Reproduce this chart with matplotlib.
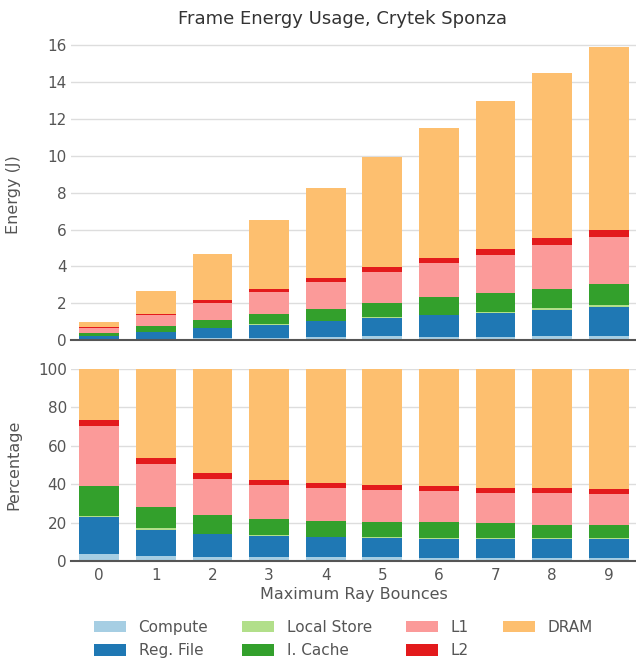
import numpy as np
import matplotlib
matplotlib.use("Agg")
import matplotlib.pyplot as plt

bounces = [0, 1, 2, 3, 4, 5, 6, 7, 8, 9]

# energy per component (J)
compute = [0.033, 0.064, 0.089, 0.124, 0.157, 0.199, 0.161, 0.182, 0.203, 0.223]
reg_file = [0.188, 0.374, 0.556, 0.709, 0.858, 0.973, 1.173, 1.274, 1.421, 1.558]
local_store = [0.002, 0.016, 0.014, 0.033, 0.025, 0.050, 0.035, 0.078, 0.087, 0.095]
i_cache = [0.149, 0.291, 0.448, 0.540, 0.660, 0.775, 0.943, 1.014, 1.044, 1.145]
l1 = [0.302, 0.609, 0.897, 1.183, 1.452, 1.698, 1.852, 2.080, 2.407, 2.560]
l2 = [0.030, 0.083, 0.145, 0.169, 0.215, 0.258, 0.299, 0.338, 0.377, 0.413]
dram = [0.253, 1.234, 2.520, 3.744, 4.884, 5.978, 7.038, 8.034, 8.961, 9.906]

labels = ["Compute", "Reg. File", "Local Store", "I. Cache", "L1", "L2", "DRAM"]
series = [compute, reg_file, local_store, i_cache, l1, l2, dram]
colors = ["#a6cee3", "#1f78b4", "#b2df8a", "#33a02c", "#fb9a99", "#e31a1c", "#fdbf6f"]

plt.rcParams["font.family"] = "DejaVu Sans"
text_col = "#555555"

W, H = 636, 662
fig = plt.figure(figsize=(W / 100, H / 100), dpi=100)
ax1 = fig.add_axes([71 / W, (H - 340) / H, 566 / W, 302 / H])
ax2 = fig.add_axes([71 / W, (H - 561) / H, 566 / W, 192 / H])

data = np.array(series)
pct = data / data.sum(axis=0) * 100
x = np.array(bounces)
w = 0.7

handles = []
for ax, vals in [(ax1, data), (ax2, pct)]:
    bottom = np.zeros(len(x))
    for i, lab in enumerate(labels):
        b = ax.bar(x, vals[i], w, bottom=bottom, color=colors[i], label=lab, zorder=3)
        bottom += vals[i]
        if ax is ax1:
            handles.append(b)
    ax.set_xlim(-0.5, 9.5)
    ax.grid(axis="y", color="#dddddd", lw=1, zorder=0)
    for s in ["top", "right", "left"]:
        ax.spines[s].set_visible(False)
    ax.spines["bottom"].set_color("#555555")
    ax.spines["bottom"].set_linewidth(1.5)
    ax.spines["bottom"].set_zorder(4)
    ax.tick_params(colors=text_col, labelsize=11, length=0, pad=3)
    ax.tick_params(axis="x", pad=5)

ax1.set_ylim(0, 16.4)
ax1.set_yticks([0, 2, 4, 6, 8, 10, 12, 14, 16])
ax1.set_xticks(x)
ax1.set_xticklabels([])
ax1.set_ylabel("Energy (J)", color=text_col, fontsize=11.5)

ax2.set_ylim(0, 100)
ax2.set_yticks([0, 20, 40, 60, 80, 100])
ax2.set_xticks(x)
ax2.set_xticklabels([str(b) for b in bounces])
ax2.set_ylabel("Percentage", color=text_col, fontsize=11.5)
ax2.set_xlabel("Maximum Ray Bounces", color=text_col, fontsize=11.5, labelpad=3)

ax1.yaxis.set_label_coords(-0.088, 0.48)
ax2.yaxis.set_label_coords(-0.088, 0.5)

fig.text(342.5 / W, 1 - 19 / H, "Frame Energy Usage, Crytek Sponza",
         ha="center", va="center", color="#333333", fontsize=13)

leg = fig.legend(handles, labels, loc="upper left", bbox_to_anchor=(93.5 / W, 1 - 620 / H),
                 ncol=4, frameon=False, fontsize=11, borderpad=0, borderaxespad=0,
                 handlelength=2.1, handleheight=0.78, columnspacing=2.2,
                 handletextpad=0.85, labelspacing=0.55)
for t in leg.get_texts():
    t.set_color(text_col)

fig.savefig("out.png", dpi=100)
